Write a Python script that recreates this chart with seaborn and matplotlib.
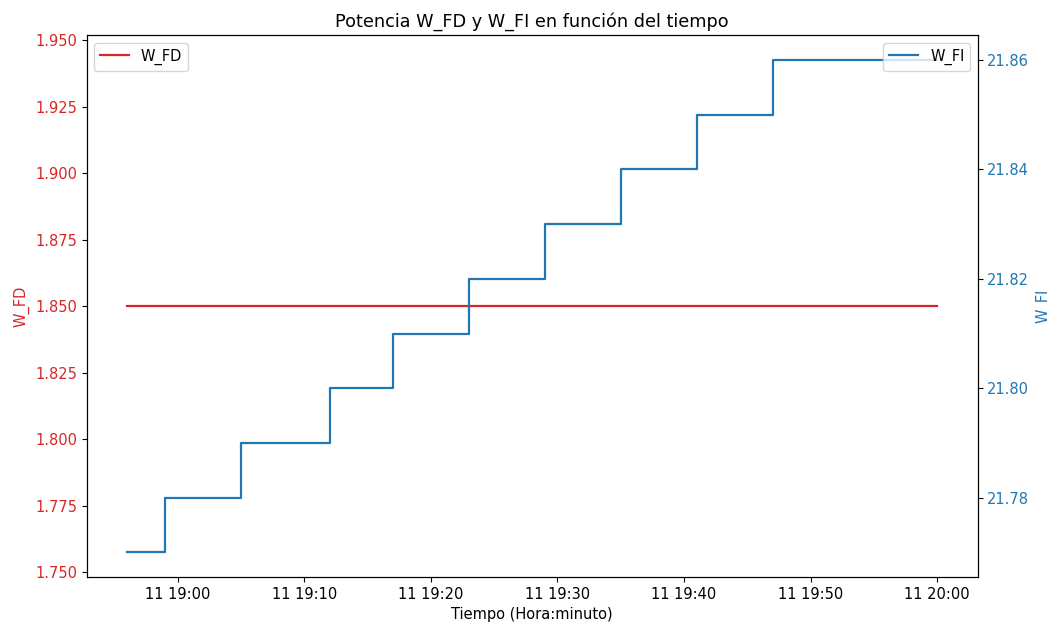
import matplotlib
matplotlib.use("Agg")
import matplotlib.pyplot as plt
import seaborn as sns
import pandas as pd

times = ["2024-01-11 18:56", "2024-01-11 18:59", "2024-01-11 19:05", "2024-01-11 19:12",
         "2024-01-11 19:17", "2024-01-11 19:23", "2024-01-11 19:29", "2024-01-11 19:35",
         "2024-01-11 19:41", "2024-01-11 19:47", "2024-01-11 20:00"]
w_fd = [1.85, 1.85, 1.85, 1.85, 1.85, 1.85, 1.85, 1.85, 1.85, 1.85, 1.85]
w_fi = [21.77, 21.78, 21.79, 21.80, 21.81, 21.82, 21.83, 21.84, 21.85, 21.86, 21.86]

df = pd.DataFrame({"Tiempo": pd.to_datetime(times), "W_FD": w_fd, "W_FI": w_fi})

plt.rcParams['font.family'] = ['DejaVu Sans']
plt.rcParams['font.size'] = 10.5
fig, ax = plt.subplots(figsize=(10.5, 6.26), dpi=100)
fig.subplots_adjust(left=0.0826, right=0.931, top=0.9435, bottom=0.0783)

red = "#d62728"
blue = "#1f77b4"

sns.lineplot(data=df, x="Tiempo", y="W_FD", ax=ax, color=red, label="W_FD",
             drawstyle="steps-post", linewidth=1.6)
ax.set_ylabel("W_FD", color=red)
ax.set_xlabel("Tiempo (Hora:minuto)")
ax.tick_params(axis="y", labelcolor=red)
ax.legend(loc="upper left")

ax2 = ax.twinx()
sns.lineplot(data=df, x="Tiempo", y="W_FI", ax=ax2, color=blue, label="W_FI",
             drawstyle="steps-post", linewidth=1.6)
ax2.set_ylabel("W_FI", color=blue)
ax2.tick_params(axis="y", labelcolor=blue)
ax2.legend(loc="upper right")

ax.set_title("Potencia W_FD y W_FI en función del tiempo", fontsize=12.7)

fig.savefig("out.png", dpi=100)
